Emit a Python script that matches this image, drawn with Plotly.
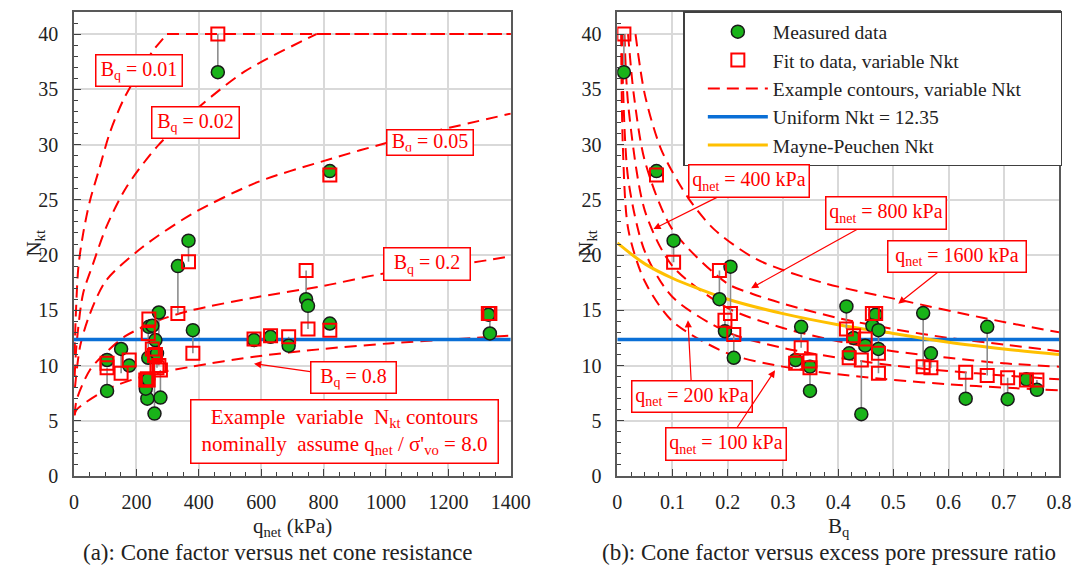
import plotly.graph_objects as go

# ---------------- data ----------------
# Panel (a): N_kt versus q_net
left_q = [461, 820, 367, 333, 744, 750, 820, 1328, 1333, 577, 630, 688, 381,
          106, 106, 151, 177, 272, 240, 238, 251, 258, 277, 235, 230, 238, 261, 266]
left_meas = [36.55, 27.6, 21.3, 19.0, 16.0, 15.4, 13.8, 14.6, 12.9, 12.3, 12.6, 11.8, 13.2,
             10.5, 7.7, 11.5, 10.0, 14.8, 13.5, 10.7, 13.6, 5.65, 7.1, 7.0, 7.9, 8.75, 12.3, 11.1]
left_fit = [40.0, 27.25, 19.4, 14.7, 18.6, 13.3, 13.2, 14.7, 14.7, 12.4, 12.7, 12.6, 11.1,
            10.2, 9.8, 9.3, 10.5, 10.0, 14.2, 12.9, 11.5, 10.9, 9.6, 8.8, 8.7, 8.7, 11.0, 9.8]

# Panel (b): N_kt versus B_q
right_bq = [0.012, 0.071, 0.102, 0.185, 0.205, 0.195, 0.211, 0.333, 0.323, 0.349, 0.349,
            0.415, 0.468, 0.462, 0.473, 0.473, 0.428, 0.449, 0.420, 0.442, 0.554, 0.568,
            0.631, 0.670, 0.707, 0.741, 0.760]
right_meas = [36.55, 27.6, 21.3, 16.0, 18.95, 13.1, 10.7, 13.5, 10.5, 9.9, 7.7,
              15.35, 14.6, 13.6, 13.2, 11.5, 12.5, 11.8, 11.1, 5.6, 14.75, 11.1,
              7.0, 13.5, 6.95, 8.75, 7.8]
right_fit = [40.0, 27.25, 19.35, 18.6, 14.7, 14.1, 12.8, 11.6, 10.2, 10.4, 9.8,
             13.3, 14.7, 14.7, 11.1, 9.3, 12.7, 12.4, 10.7, 10.5, 9.9, 9.8,
             9.4, 9.1, 8.9, 8.7, 8.7]

# Example contours, panel (a): constant B_q (curve part, then cap at 40)
c001_q = [2, 5, 14, 29, 51, 82, 114, 161, 251, 298]
c001_n = [11, 14, 18.9, 21.9, 24.9, 27.9, 31.0, 34.2, 38.4, 40.0]
c002_q = [2, 8.5, 29, 61, 103, 167, 272, 409, 546, 777]
c002_n = [9, 12, 16.5, 19.2, 22.5, 26.1, 30.0, 33.6, 36.6, 40.0]
c005_q = [3, 20, 50, 103, 219, 377, 588, 799, 1009, 1400]
c005_n = [8, 11.8, 14.6, 17.7, 20.7, 23.7, 26.6, 28.5, 30.2, 32.8]
c02_q = [2, 8.5, 51, 103, 167, 272, 377, 588, 799, 988, 1273, 1400]
c02_n = [5.5, 6.9, 9.6, 11.2, 12.7, 14.1, 15.0, 16.2, 17.2, 18.3, 19.3, 19.9]
c08_q = [1, 8.5, 103, 219, 377, 577, 799, 1009, 1400]
c08_n = [5.5, 6.0, 7.8, 9.0, 9.9, 10.8, 11.5, 12.0, 12.7]
cap_n = 40.0
q_max = 1400

# Example contours, panel (b): constant q_net
k100_b = [0.007, 0.01, 0.02, 0.05, 0.1, 0.2, 0.3, 0.4, 0.5, 0.6, 0.7, 0.8]
k100_n = [40, 30, 22.3, 17.6, 14.0, 11.1, 9.9, 9.2, 8.7, 8.3, 8.0, 7.75]
k200_b = [0.0085, 0.01, 0.02, 0.05, 0.1, 0.2, 0.3, 0.4, 0.5, 0.6, 0.7, 0.8]
k200_n = [40, 35.8, 26.8, 20.3, 16.2, 13.0, 11.6, 10.7, 10.0, 9.5, 9.1, 8.75]
k400_b = [0.013, 0.02, 0.05, 0.1, 0.2, 0.3, 0.4, 0.5, 0.6, 0.7, 0.8]
k400_n = [40, 33.5, 24.0, 19.0, 15.2, 13.4, 12.2, 11.3, 10.7, 10.2, 9.9]
k800_b = [0.0195, 0.03, 0.05, 0.1, 0.2, 0.244, 0.3, 0.4, 0.5, 0.6, 0.7, 0.8]
k800_n = [40, 34.5, 28.5, 22.3, 17.4, 16.5, 15.6, 14.3, 13.3, 12.5, 11.9, 11.3]
k1600_b = [0.033, 0.05, 0.08, 0.128, 0.176, 0.253, 0.372, 0.515, 0.664, 0.8]
k1600_n = [40, 34.5, 29.5, 25.2, 22.3, 19.6, 17.5, 15.9, 14.3, 13.0]

# Mayne-Peuchen curve (read points)
mp_b = [0, 0.05, 0.1, 0.15, 0.2, 0.3, 0.4, 0.5, 0.6, 0.7, 0.8]
mp_n = [21.1, 19.2, 17.9, 16.9, 16.0, 14.7, 13.7, 12.9, 12.1, 11.5, 11.0]

uniform_nkt = 12.35

# ---------------- styling ----------------
FONT = "Liberation Serif, Times New Roman, DejaVu Serif, serif"
RED = "#ff0000"
GREEN = "#19b319"
BLUE = "#0a6fd6"
GOLD = "#ffc000"
DASH = "12px,7px"
NB = "\u00a0" * 7  # trailing non-breaking spaces widen the legend box like the reference

W, H = 1089, 573
L, R, T, B = 74, 16, 10, 97
PW, PH = W - L - R, H - T - B


def px(x, y):
    return (x - L) / PW, (H - B - y) / PH


fig = go.Figure()


def add_contour(xs, ys, xa, ya, show=False):
    fig.add_trace(go.Scatter(x=xs, y=ys, mode="lines", xaxis=xa, yaxis=ya,
                             line=dict(color=RED, width=2, dash=DASH, shape="spline", smoothing=0.8),
                             name="Example contours, variable Nkt" + NB, legendgroup="cont",
                             showlegend=show, legendrank=3, hoverinfo="skip"))


# panel (a) contours
for xs, ys in [(c001_q, c001_n), (c002_q, c002_n), (c005_q, c005_n), (c02_q, c02_n), (c08_q, c08_n)]:
    add_contour(xs, ys, "x", "y")
for start in [c001_q[-1], c002_q[-1]]:
    fig.add_trace(go.Scatter(x=[start, q_max], y=[cap_n, cap_n], mode="lines", xaxis="x", yaxis="y",
                             line=dict(color=RED, width=2, dash=DASH), showlegend=False, hoverinfo="skip"))
# panel (b) contours
first = True
for xs, ys in [(k100_b, k100_n), (k200_b, k200_n), (k400_b, k400_n), (k800_b, k800_n), (k1600_b, k1600_n)]:
    add_contour(xs, ys, "x2", "y2", show=first)
    first = False

# uniform lines
fig.add_trace(go.Scatter(x=[0, q_max], y=[uniform_nkt, uniform_nkt], mode="lines", xaxis="x", yaxis="y",
                         line=dict(color=BLUE, width=3.5), showlegend=False, hoverinfo="skip"))
fig.add_trace(go.Scatter(x=[0, 0.8], y=[uniform_nkt, uniform_nkt], mode="lines", xaxis="x2", yaxis="y2",
                         line=dict(color=BLUE, width=3.5), name="Uniform Nkt = 12.35",
                         legendrank=4, hoverinfo="skip"))
# Mayne-Peuchen
fig.add_trace(go.Scatter(x=mp_b, y=mp_n, mode="lines", xaxis="x2", yaxis="y2",
                         line=dict(color=GOLD, width=3, shape="spline"), name="Mayne-Peuchen Nkt",
                         legendrank=5, hoverinfo="skip"))


def connectors(xs, a, b):
    cx, cy = [], []
    for x, y1, y2 in zip(xs, a, b):
        cx += [x, x, None]
        cy += [y1, y2, None]
    return cx, cy


for xs, a, b, xa, ya, show in [(left_q, left_meas, left_fit, "x", "y", False),
                               (right_bq, right_meas, right_fit, "x2", "y2", True)]:
    cx, cy = connectors(xs, a, b)
    fig.add_trace(go.Scatter(x=cx, y=cy, mode="lines", xaxis=xa, yaxis=ya,
                             line=dict(color="#8c8c8c", width=1.6), showlegend=False, hoverinfo="skip"))
    fig.add_trace(go.Scatter(x=xs, y=a, mode="markers", xaxis=xa, yaxis=ya, name="Measured data",
                             marker=dict(symbol="circle", size=13, color=GREEN,
                                         line=dict(color="#1a1a1a", width=1.5)),
                             showlegend=show, legendrank=1))
    fig.add_trace(go.Scatter(x=xs, y=b, mode="markers", xaxis=xa, yaxis=ya, name="Fit to data, variable Nkt",
                             marker=dict(symbol="square-open", size=13, color=RED,
                                         line=dict(color=RED, width=2)),
                             showlegend=show, legendrank=2))

axis_common = dict(showline=True, linecolor="#595959", linewidth=1.5, mirror=True,
                   ticks="inside", ticklen=7, tickwidth=1.2, tickcolor="#404040",
                   showgrid=True, gridcolor="#d9d9d9", gridwidth=2, zeroline=False,
                   tickfont=dict(family=FONT, size=20, color="#222"))

fig.update_layout(
    width=W, height=H, margin=dict(l=L, r=R, t=T, b=B), paper_bgcolor="white", plot_bgcolor="white",
    xaxis=dict(domain=[0, (517 - L) / PW], range=[0, 1400], tick0=0, dtick=200,
               minor=dict(ticks="inside", ticklen=4, tickcolor="#404040", dtick=50, showgrid=False),
               ticklabelstandoff=7, anchor="y", **axis_common),
    yaxis=dict(domain=[0, 1], range=[0, 42], tick0=0, dtick=5,
               minor=dict(ticks="inside", ticklen=4, tickcolor="#404040", dtick=1, showgrid=False),
               ticklabelstandoff=10, anchor="x", **axis_common),
    xaxis2=dict(domain=[(625 - L) / PW, 1], range=[0, 0.8], tick0=0, dtick=0.1,
                minor=dict(ticks="inside", ticklen=4, tickcolor="#404040", dtick=0.025, showgrid=False),
                ticklabelstandoff=7, anchor="y2", **axis_common),
    yaxis2=dict(domain=[0, 1], range=[0, 42], tick0=0, dtick=5,
                minor=dict(ticks="inside", ticklen=4, tickcolor="#404040", dtick=1, showgrid=False),
                ticklabelstandoff=10, anchor="x2", **axis_common),
    legend=dict(x=(692 - L) / PW, y=(H - B - 9) / PH, xanchor="left", yanchor="top",
                bordercolor="#404040", borderwidth=1.5, bgcolor="white",
                font=dict(family=FONT, size=19.5, color="#222"), itemwidth=60,
                indentation=18, tracegroupgap=0),
    font=dict(family=FONT, color="#222"),
)

ann = []


def box(text, x, y, w, h, xref="x", yref="y", arrow=None, size=20):
    d = dict(text=text, x=x, y=y, xref=xref, yref=yref, showarrow=False,
             font=dict(family=FONT, size=size, color=RED), bgcolor="white",
             bordercolor=RED, borderwidth=1.5, borderpad=3, width=w - 9, height=h - 9,
             align="center", valign="middle")
    if arrow is not None:
        d.update(showarrow=True, ax=arrow[0], ay=arrow[1], arrowcolor=RED, arrowwidth=1.2,
                 arrowhead=2, arrowsize=1.2, standoff=0)
    ann.append(d)


# panel (a) labels
box("B<sub>q</sub> = 0.01", 208.6, 36.69, 88, 33)
box("B<sub>q</sub> = 0.02", 390.3, 32.0, 89, 33)
box("B<sub>q</sub> = 0.05", 1141, 30.23, 88, 27)
box("B<sub>q</sub> = 0.2", 1131.5, 19.22, 88, 34)
box("B<sub>q</sub> = 0.8", 577, 10.17, 87, 33, arrow=(99, 14))
box("Example  variable  N<sub>kt</sub> contours<br>nominally  assume q<sub>net</sub> / σ'<sub>vo</sub> = 8.0",
    867.6, 4.02, 309, 65, size=21)

# panel (b) labels
box("q<sub>net</sub> = 400 kPa", 0.0655, 22.35, 122, 34, "x2", "y2", arrow=(96, -48))
box("q<sub>net</sub> = 800 kPa", 0.2424, 17.0, 122, 34, "x2", "y2", arrow=(135, -75))
box("q<sub>net</sub> = 1600 kPa", 0.5089, 15.6, 140, 33, "x2", "y2", arrow=(59, -47))
box("q<sub>net</sub> = 200 kPa", 0.128, 14.1, 122, 33, "x2", "y2", arrow=(4, 76))
box("q<sub>net</sub> = 100 kPa", 0.2857, 9.57, 122, 34, "x2", "y2", arrow=(-49, 74))


def label(text, x, y, size, angle=0):
    px_, py_ = px(x, y)
    ann.append(dict(text=text, x=px_, y=py_, xref="paper", yref="paper", showarrow=False,
                    font=dict(family=FONT, size=size, color="#222"), textangle=angle,
                    xanchor="center", yanchor="middle"))


label("q<sub>net</sub> (kPa)", 296, 527, 21)
label("B<sub>q</sub>", 850, 527, 21)
label("N<sub>kt</sub>", 34, 242, 21, -90)
label("N<sub>kt</sub>", 594, 242, 21, -90)
label("(a): Cone factor versus net cone resistance", 281, 553, 23)
label("(b): Cone factor versus excess pore pressure ratio", 840, 553, 23)

fig.update_layout(annotations=ann)
fig.write_html("out.html")
